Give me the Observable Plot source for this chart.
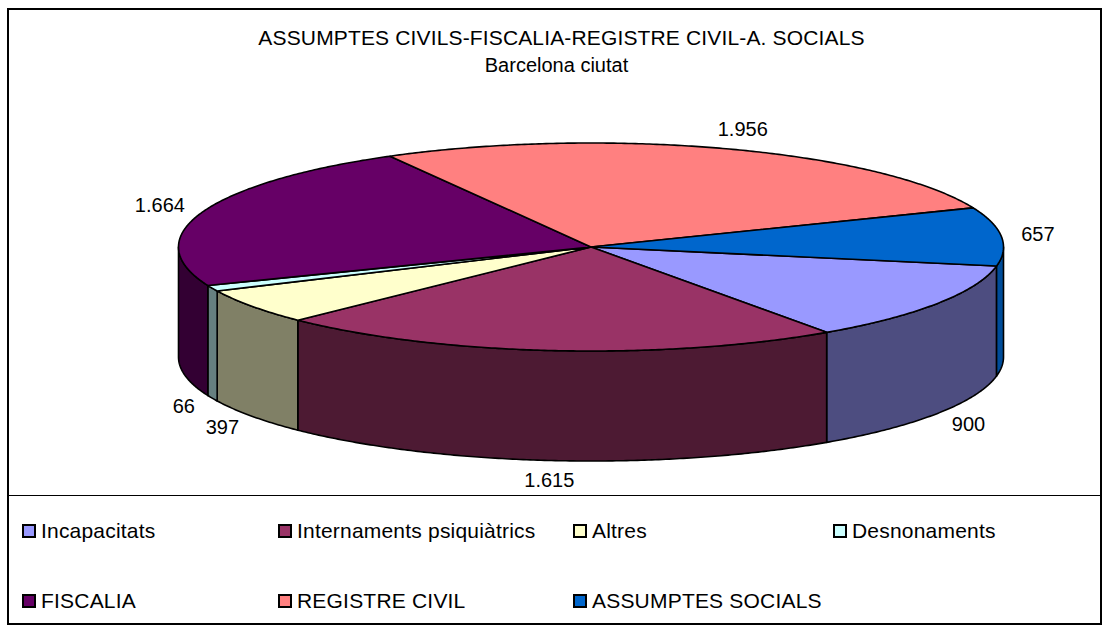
<!DOCTYPE html>
<html>
<head>
<meta charset="utf-8">
<script src="https://cdn.jsdelivr.net/npm/d3@7"></script>
<script src="https://cdn.jsdelivr.net/npm/@observablehq/plot@0.6"></script>
<style>
  html, body { margin: 0; padding: 0; background: #fff; }
  #chart { position: relative; width: 1110px; height: 633px; font-family: "Liberation Sans", Arial, sans-serif; color: #000; overflow: hidden; }
  #frame { position: absolute; left: 7px; top: 8px; width: 1095px; height: 617px; border: 2px solid #000; box-sizing: border-box; }
  #sep { position: absolute; left: 7px; top: 495px; width: 1095px; height: 0; border-top: 1.5px solid #000; }
  .title { position: absolute; left: 7px; width: 1095px; text-align: center; white-space: nowrap; line-height: 24px; }
  #t1 { top: 26px; left: 14px; font-size: 21px; letter-spacing: 0.15px; }
  #t2 { top: 53px; left: 9px; font-size: 20px; }
  #plot { position: absolute; left: 0; top: 0; }
  .lg { position: absolute; display: flex; align-items: center; font-size: 21px; letter-spacing: 0.2px; white-space: nowrap; }
  .lg .sw { width: 10px; height: 10px; border: 2px solid #000; margin-right: 5px; flex: none; }
</style>
</head>
<body>
<div id="chart">
  <div id="plot"></div>
  <div id="frame"></div>
  <div id="sep"></div>
  <div class="title" id="t1"></div>
  <div class="title" id="t2"></div>
  <div id="legend"></div>
</div>
<script>
// ---- data ----
const title = "ASSUMPTES CIVILS-FISCALIA-REGISTRE CIVIL-A. SOCIALS";
const subtitle = "Barcelona ciutat";
const categories = ["Incapacitats", "Internaments psiquiàtrics", "Altres", "Desnonaments", "FISCALIA", "REGISTRE CIVIL", "ASSUMPTES SOCIALS"];
const values = [900, 1615, 397, 66, 1664, 1956, 657];
const topColors = ["#9999FF", "#993366", "#FFFFCC", "#CCFFFF", "#660066", "#FF8080", "#0066CC"];
const sideColors = ["#4D4D80", "#4D1A33", "#808066", "#668080", "#330033", "#804040", "#004C99"];

// ---- layout parameters ----
const startDeg = 10.5;          // first slice starts slightly below 3 o'clock, clockwise
const rxPx = 412.5, ryPx = 104; // ellipse radii in pixels
const depth = 110 / ryPx;       // wall height in units of the ellipse's vertical radius
const step = Math.PI / 360;
const labelSize = 20;

const fmt = d3.formatLocale({decimal: ",", thousands: ".", grouping: [3]}).format(",");

const total = d3.sum(values);
const ends = d3.cumsum(values);
const rad = d => d * Math.PI / 180;
const slices = categories.map((c, i) => {
  const a0 = rad(startDeg) + 2 * Math.PI * (ends[i] - values[i]) / total;
  const a1 = rad(startDeg) + 2 * Math.PI * ends[i] / total;
  return {c, i, a0, a1, v: values[i]};
});

function arc(a0, a1) {
  const n = Math.max(2, Math.ceil((a1 - a0) / step));
  return d3.range(n + 1).map(k => a0 + (a1 - a0) * k / n);
}

// top faces
const topPts = [];
for (const s of slices) {
  const id = "top" + s.i;
  topPts.push({id, x: 0, y: 0, fill: topColors[s.i]});
  for (const a of arc(s.a0, s.a1)) topPts.push({id, x: Math.cos(a), y: Math.sin(a), fill: topColors[s.i]});
  topPts.push({id, x: 0, y: 0, fill: topColors[s.i]});
}

// outer walls (front half only: angles where sin > 0)
const wallPts = [];
for (const s of slices) {
  for (const off of [0, 2 * Math.PI]) {
    const b0 = Math.max(s.a0, off), b1 = Math.min(s.a1, off + Math.PI);
    if (b1 <= b0) continue;
    const id = "wall" + s.i + "_" + off;
    const as = arc(b0, b1);
    const pts = [];
    for (const a of as) pts.push({id, x: Math.cos(a), y: Math.sin(a), fill: sideColors[s.i]});
    for (const a of as.slice().reverse()) pts.push({id, x: Math.cos(a), y: Math.sin(a) + depth, fill: sideColors[s.i]});
    pts.push(pts[0]);
    wallPts.push(...pts);
  }
}

// labels: placed just outside the rim, offset by half the text box
const labelPts = slices.map(s => {
  const m = (s.a0 + s.a1) / 2;
  const cx = Math.cos(m), sy = Math.sin(m);
  const text = fmt(s.v);
  const w = labelSize * d3.sum(text, ch => ch === "." ? 0.278 : 0.556);
  const h = labelSize * 0.8;
  const gx = 20, gy = 12;
  return {
    x: cx * (1 + (gx + w / 2) / rxPx),
    y: sy * (1 + (gy + h / 2) / ryPx) + (sy > 0 ? depth : 0),
    text
  };
});

const plot = Plot.plot({
  width: 1110,
  height: 495,
  margin: 0,
  x: {domain: [-1, 1], range: [590.5 - rxPx, 590.5 + rxPx], axis: null},
  y: {domain: [-1, 1], range: [246.5 - ryPx, 246.5 + ryPx], axis: null},
  color: {type: "identity"},
  style: {background: "transparent", fontFamily: "'Liberation Sans', Arial, sans-serif"},
  marks: [
    Plot.line(wallPts, {x: "x", y: "y", z: "id", fill: "fill", stroke: "#000", strokeWidth: 1.6, strokeLinejoin: "round", curve: "linear"}),
    Plot.line(topPts, {x: "x", y: "y", z: "id", fill: "fill", stroke: "#000", strokeWidth: 1.6, strokeLinejoin: "round", curve: "linear"}),
    Plot.text(labelPts, {x: "x", y: "y", text: "text", fontSize: labelSize, fill: "#000"})
  ]
});
document.getElementById("plot").appendChild(plot);

document.getElementById("t1").textContent = title;
document.getElementById("t2").textContent = subtitle;

// legend
const legendCols = [22, 278, 573, 833];
const legendRows = [531, 601];
const legend = document.getElementById("legend");
categories.forEach((c, i) => {
  const el = document.createElement("div");
  el.className = "lg";
  el.style.left = legendCols[i % 4] + "px";
  el.style.top = (legendRows[Math.floor(i / 4)] - 12) + "px";
  el.style.height = "24px";
  const sw = document.createElement("span");
  sw.className = "sw";
  sw.style.background = topColors[i];
  const tx = document.createElement("span");
  tx.textContent = c;
  el.appendChild(sw);
  el.appendChild(tx);
  legend.appendChild(el);
});
</script>
</body>
</html>
